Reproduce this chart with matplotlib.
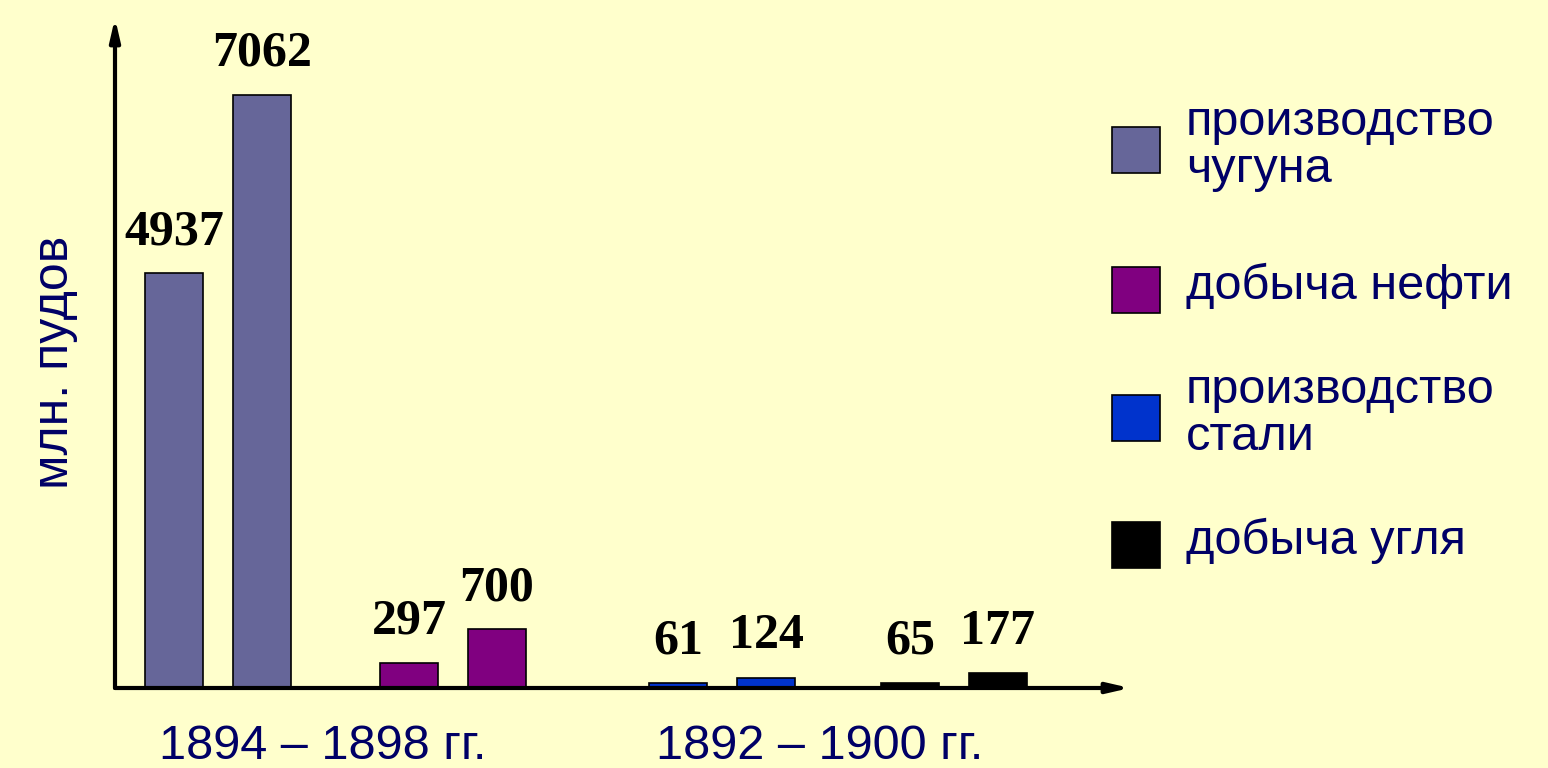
import matplotlib
matplotlib.use("Agg")
import matplotlib.pyplot as plt
from matplotlib.patches import Rectangle

# data
SERIES = ["производство\nчугуна", "добыча нефти", "производство\nстали", "добыча угля"]
VALUES_FIRST = [4937, 297, 61, 65]
VALUES_SECOND = [7062, 700, 124, 177]
PERIODS = ["1894 – 1898 гг.", "1892 – 1900 гг."]
Y_LABEL = "млн. пудов"

COLORS = ["#666699", "#800080", "#0033CC", "#000000"]
BG = "#FFFFCC"
NAVY = "#000066"
SANS = ["Liberation Sans", "DejaVu Sans"]
SERIF = ["Liberation Serif", "DejaVu Serif"]

W, H = 1548, 768
# axes box in pixels: left, baseline, right, top
AX_L, AX_B, AX_R, AX_T = 115, 688, 1130, 18
GROUP_X = [103, 338, 607, 839]
PAIR_OFF = 44
BAR_W = 58


def Main():
    fig = plt.figure(figsize=(W / 100, H / 100), dpi=100, facecolor=BG)
    ax = fig.add_axes([AX_L / W, (H - AX_B) / H, (AX_R - AX_L) / W, (AX_B - AX_T) / H])
    ax.set_facecolor(BG)
    ax.set_xlim(0, AX_R - AX_L)
    ax.set_ylim(0, 7980)
    for s in ax.spines.values():
        s.set_visible(False)
    ax.set_xticks([])
    ax.set_yticks([])

    DrawBars(ax)
    DrawAxes(ax)
    DrawLabels(fig, ax)
    DrawLegend(fig)

    fig.savefig("out.png", dpi=100, facecolor=BG)
    plt.close(fig)


def DrawBars(ax):
    for i in range(len(SERIES)):
        for x, v in [(GROUP_X[i] - PAIR_OFF, VALUES_FIRST[i]), (GROUP_X[i] + PAIR_OFF, VALUES_SECOND[i])]:
            ax.bar(x, v, width=BAR_W, color=COLORS[i], edgecolor="black", linewidth=1.2, zorder=3)
            ax.annotate(str(v), xy=(x, v), xytext=(0, 21), textcoords="offset points",
                        ha="center", va="baseline", fontsize=36, fontweight="bold",
                        family=SERIF, color="black", zorder=4)


def DrawAxes(ax):
    arrow = dict(arrowstyle="-|>,head_length=1.3,head_width=0.3", color="black",
                 linewidth=3, shrinkA=0, shrinkB=0)
    ax.annotate("", xy=(0, 1), xytext=(0, 0), xycoords="axes fraction", arrowprops=arrow, zorder=5)
    ax.annotate("", xy=(1, 0), xytext=(0, 0), xycoords="axes fraction", arrowprops=arrow, zorder=5)


def DrawLabels(fig, ax):
    label_x = [(GROUP_X[0] + GROUP_X[1]) / 2 - 13, (GROUP_X[2] + GROUP_X[3]) / 2 - 18]
    for x, txt in zip(label_x, PERIODS):
        ax.text(x, -0.088, txt, transform=ax.get_xaxis_transform(), ha="center", va="center",
                fontsize=35, family=SANS, color=NAVY, clip_on=False)
    fig.text(55 / W, 1 - 362 / H, Y_LABEL, rotation=90, ha="center", va="center",
             fontsize=36, family=SANS, color=NAVY)


def DrawLegend(fig):
    centers = [150, 290, 418, 545]
    for y, lab, c in zip(centers, SERIES, COLORS):
        fig.patches.append(Rectangle(((1112) / W, 1 - (y + 23) / H), 48 / W, 46 / H,
                                     transform=fig.transFigure, facecolor=c,
                                     edgecolor="black", linewidth=1.2))
        fig.text(1186 / W, 1 - (y - 4) / H, lab, ha="left", va="center", fontsize=35,
                 family=SANS, color=NAVY, linespacing=1.05)


if __name__ == "__main__":
    Main()
